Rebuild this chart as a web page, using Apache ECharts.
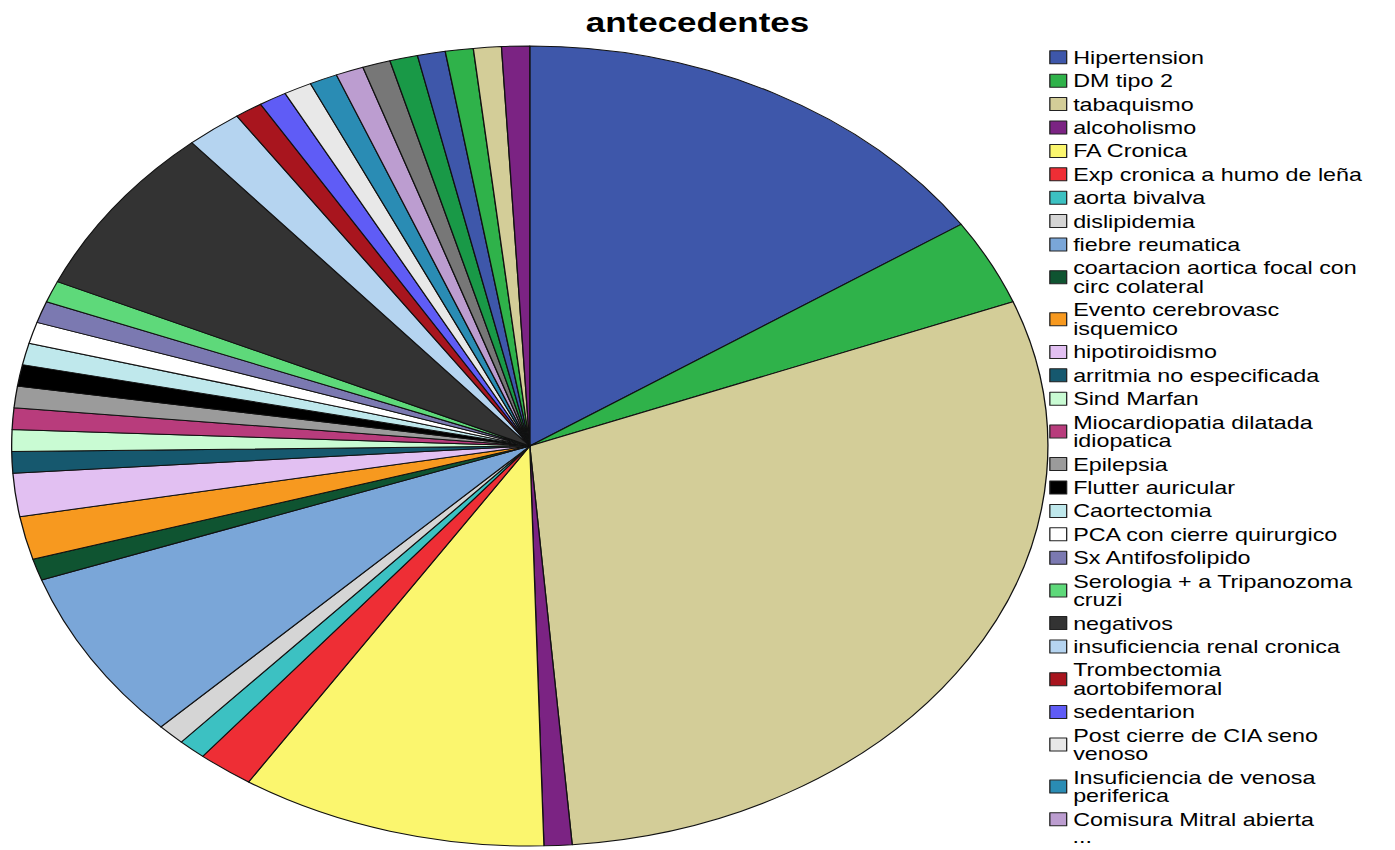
<!DOCTYPE html>
<html>
<head>
<meta charset="utf-8">
<script src="https://cdn.jsdelivr.net/npm/echarts@6/dist/echarts.min.js"></script>
<style>
  html, body { margin: 0; padding: 0; background: #ffffff; overflow: hidden; }
  #main { width: 1077px; height: 850px; transform: scaleX(1.2953); transform-origin: 0 0; }
</style>
</head>
<body>
<div id="main"></div>
<script>
// Categories in slice order (clockwise from 12 o'clock). The last six are not visible in the truncated legend.
const categories = [
  'Hipertension', 'DM tipo 2', 'tabaquismo', 'alcoholismo', 'FA Cronica',
  'Exp cronica a humo de leña', 'aorta bivalva', 'dislipidemia', 'fiebre reumatica',
  'coartacion aortica focal con circ colateral', 'Evento cerebrovasc isquemico',
  'hipotiroidismo', 'arritmia no especificada', 'Sind Marfan',
  'Miocardiopatia dilatada idiopatica', 'Epilepsia', 'Flutter auricular', 'Caortectomia',
  'PCA con cierre quirurgico', 'Sx Antifosfolipido', 'Serologia + a Tripanozoma cruzi',
  'negativos', 'insuficiencia renal cronica', 'Trombectomia aortobifemoral', 'sedentarion',
  'Post cierre de CIA seno venoso', 'Insuficiencia de venosa periferica',
  'Comisura Mitral abierta',
  'otro 29', 'otro 30', 'otro 31', 'otro 32', 'otro 33', 'otro 34'
];
const values = [
  18, 4, 34, 1, 11,
  2, 1, 1, 8,
  1, 2,
  2, 1, 1,
  1, 1, 1, 1,
  1, 1, 1,
  8, 2, 1, 1,
  1, 1,
  1,
  1, 1, 1, 1, 1, 1
];
const colors = [
  '#3e57aa', '#2fb24a', '#d3cd98', '#7b2383', '#fbf66e',
  '#ee2e35', '#3cc1c2', '#d5d5d5', '#7aa6d8',
  '#0f5431', '#f7991f',
  '#e2c0f2', '#16586e', '#c9fbd3',
  '#b83c7c', '#9b9b9b', '#000000', '#bfe8ec',
  '#ffffff', '#7b79b1', '#5ed97a',
  '#333333', '#b5d4f0', '#a8151e', '#5f5cf6',
  '#e8e8e8', '#2a8cb4',
  '#bc9dd0',
  '#777777', '#199947', '#3e57aa', '#2fb24a', '#d3cd98', '#7b2383'
];
const legendCount = 28;
const legendNames = categories.slice(0, legendCount);
// Number of words kept on the first line for legend labels that wrap in the reference
const legendWrapWords = {
  'coartacion aortica focal con circ colateral': 4,
  'Evento cerebrovasc isquemico': 2,
  'Miocardiopatia dilatada idiopatica': 2,
  'Serologia + a Tripanozoma cruzi': 4,
  'Trombectomia aortobifemoral': 1,
  'Post cierre de CIA seno venoso': 5,
  'Insuficiencia de venosa periferica': 3
};
const titleText = 'antecedentes';

const pieData = categories.map((name, i) => ({
  name: name,
  value: values[i],
  itemStyle: { color: colors[i] }
}));

function wrapLegend(name) {
  const n = legendWrapWords[name];
  if (!n) return name;
  const words = name.split(' ');
  return words.slice(0, n).join(' ') + '\n' + words.slice(n).join(' ');
}

const chart = echarts.init(document.getElementById('main'), null, { renderer: 'svg' });
chart.setOption({
  backgroundColor: '#ffffff',
  animation: false,
  title: {
    text: titleText,
    left: 'center',
    top: 9,
    padding: 0,
    textStyle: {
      fontFamily: 'Liberation Sans, Arial, sans-serif',
      fontWeight: 'bold',
      fontSize: 27,
      color: '#000000'
    }
  },
  legend: {
    orient: 'vertical',
    left: 810,
    top: 48,
    padding: 0,
    itemGap: 4.8,
    itemWidth: 13,
    itemHeight: 13,
    icon: 'rect',
    selectedMode: false,
    data: legendNames,
    formatter: wrapLegend,
    itemStyle: { borderColor: '#222222', borderWidth: 1 },
    textStyle: {
      fontFamily: 'Liberation Sans, Arial, sans-serif',
      fontSize: 18,
      lineHeight: 18.6,
      color: '#000000'
    }
  },
  graphic: [{
    type: 'text',
    left: 828,
    top: 828,
    style: {
      text: '...',
      fontFamily: 'Liberation Sans, Arial, sans-serif',
      fontSize: 18,
      fill: '#000000'
    }
  }],
  series: [{
    type: 'pie',
    center: [409, 446],
    radius: [0, 400],
    startAngle: 90,
    clockwise: true,
    avoidLabelOverlap: false,
    label: { show: false },
    labelLine: { show: false },
    emphasis: { disabled: true },
    itemStyle: { borderColor: '#111111', borderWidth: 1 },
    data: pieData
  }]
});
</script>
</body>
</html>
